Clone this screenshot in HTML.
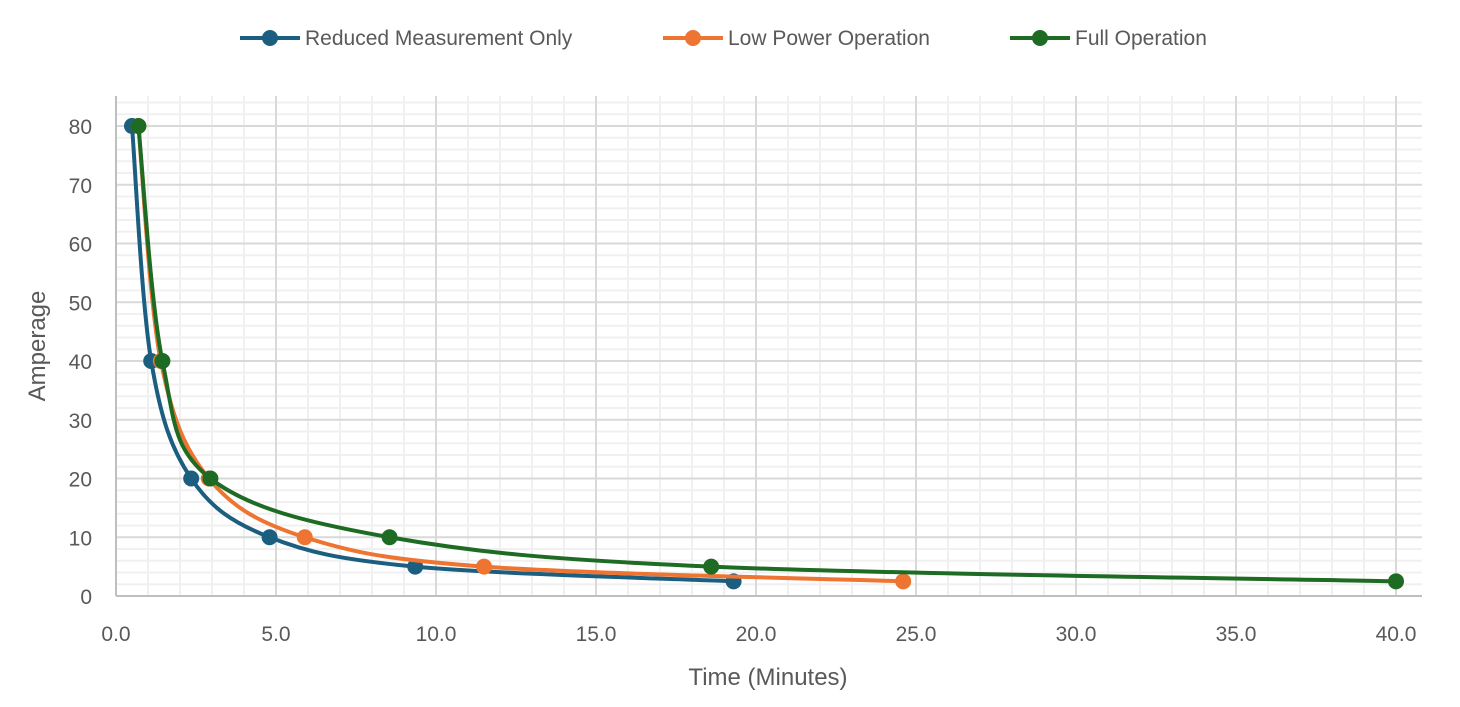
<!DOCTYPE html>
<html><head><meta charset="utf-8"><style>
body{margin:0;background:#fff;font-family:"Liberation Sans",sans-serif}
svg text{font-family:"Liberation Sans",sans-serif;fill:#595959}
</style></head><body>
<svg id="chart" width="1460" height="702" xmlns="http://www.w3.org/2000/svg">
<g id="grid"></g>
<g id="axes"></g>
<g id="series"></g>
<g id="legend"></g>
<text x="768" y="685" text-anchor="middle" font-size="24">Time (Minutes)</text>
<text transform="translate(45,346) rotate(-90)" text-anchor="middle" font-size="24">Amperage</text>
</svg>
<script>
const seriesNames = ["Reduced Measurement Only", "Low Power Operation", "Full Operation"];
const seriesColors = ["#1b5e80", "#ed7431", "#1e6b24"];
const blueX = [0.5, 1.1, 2.35, 4.8, 9.35, 19.3];
const blueY = [80, 40, 20, 10, 5, 2.5];
const orangeX = [0.7, 1.4, 2.9, 5.9, 11.5, 24.6];
const orangeY = [80, 40, 20, 10, 5, 2.5];
const greenX = [0.7, 1.45, 2.95, 8.55, 18.6, 40.0];
const greenY = [80, 40, 20, 10, 5, 2.5];
const xTicks = [0, 5, 10, 15, 20, 25, 30, 35, 40];
const yTicks = [0, 10, 20, 30, 40, 50, 60, 70, 80];

const X0 = 116, X1 = 1396, Y0 = 596, Y1 = 126;
const xs = v => X0 + (v / 40) * (X1 - X0);
const ys = v => Y0 - (v / 80) * (Y0 - Y1);
const NS = "http://www.w3.org/2000/svg";
function mk(tag, parent, attrs) {
  const e = document.createElementNS(NS, tag);
  for (const k in attrs) e.setAttribute(k, attrs[k]);
  parent.appendChild(e);
  return e;
}
const grid = document.getElementById("grid");
for (let v = 2; v < 86; v += 2) {
  if (v % 10 === 0 || ys(v) < 96) continue;
  const l = mk("line", grid, {x1: X0, x2: 1422, y1: ys(v), y2: ys(v), stroke: "#f0f0f0", "stroke-width": 2});
  
  
}
for (let v = 1; v <= 40.8; v += 1) {
  if (v % 5 === 0) continue;
  const l = mk("line", grid, {x1: xs(v), x2: xs(v), y1: 96, y2: Y0, stroke: "#f0f0f0", "stroke-width": 2});
  
  
}
yTicks.forEach(v => {
  if (v === 0) return;
  const l = mk("line", grid, {x1: X0, x2: 1422, y1: ys(v), y2: ys(v), stroke: "#d9d9d9", "stroke-width": 2});
  
  
});
xTicks.forEach(v => {
  if (v === 0) return;
  const l = mk("line", grid, {x1: xs(v), x2: xs(v), y1: 96, y2: Y0, stroke: "#d9d9d9", "stroke-width": 2});
  
  
});
const axes = document.getElementById("axes");
const ax1 = mk("line", axes, {x1: X0, x2: X0, y1: 96, y2: Y0, stroke: "#bfbfbf", "stroke-width": 2});


const ax2 = mk("line", axes, {x1: X0, x2: 1422, y1: Y0, y2: Y0, stroke: "#bfbfbf", "stroke-width": 2});


yTicks.forEach(v => {
  const t = mk("text", axes, {x: 92, y: ys(v) + 8, "text-anchor": "end", "font-size": 21});
  t.textContent = v;
  
  
});
xTicks.forEach(v => {
  const t = mk("text", axes, {x: xs(v), y: 641, "text-anchor": "middle", "font-size": 21});
  t.textContent = v.toFixed(1);
  
  
});
function smooth(pts) {
  let d = "M" + pts[0][0] + "," + pts[0][1];
  for (let i = 0; i < pts.length - 1; i++) {
    const p0 = pts[i - 1] || pts[i], p1 = pts[i], p2 = pts[i + 1], p3 = pts[i + 2] || p2;
    const t = 1 / 6;
    d += " C" + (p1[0] + (p2[0] - p0[0]) * t) + "," + (p1[1] + (p2[1] - p0[1]) * t) + " " +
      (p2[0] - (p3[0] - p1[0]) * t) + "," + (p2[1] - (p3[1] - p1[1]) * t) + " " + p2[0] + "," + p2[1];
  }
  return d;
}
const sg = document.getElementById("series");
const all = [[blueX, blueY], [orangeX, orangeY], [greenX, greenY]];
all.forEach((s, i) => {
  const pts = s[0].map((x, j) => [xs(x), ys(s[1][j])]);
  const p = mk("path", sg, {d: smooth(pts), fill: "none", stroke: seriesColors[i], "stroke-width": 4});
  
  
  pts.forEach(pt => {
    const c = mk("circle", sg, {cx: pt[0], cy: pt[1], r: 8, fill: seriesColors[i]});
    
    
  });
});
const lg = document.getElementById("legend");
const lx = [240, 663, 1010];
seriesNames.forEach((n, i) => {
  const g = mk("g", lg, {});
  
  
  mk("line", g, {x1: lx[i], x2: lx[i] + 60, y1: 38, y2: 38, stroke: seriesColors[i], "stroke-width": 4});
  mk("circle", g, {cx: lx[i] + 30, cy: 38, r: 8, fill: seriesColors[i]});
  const t = mk("text", g, {x: lx[i] + 65, y: 45, "font-size": 21});
  t.textContent = n;
});
</script>
</body></html>
